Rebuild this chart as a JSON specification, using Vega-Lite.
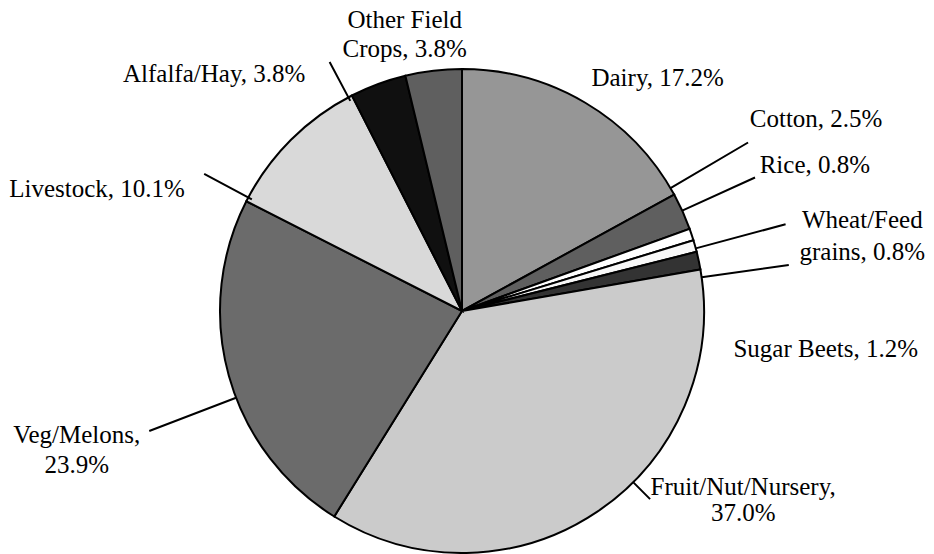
{
  "$schema": "https://vega.github.io/schema/vega-lite/v6.json",
  "width": 924,
  "height": 486,
  "autosize": {"type": "none"},
  "padding": {"left": 0, "right": 10, "top": 68, "bottom": 0},
  "background": "white",
  "config": {"view": {"stroke": null}, "text": {"font": "Liberation Serif", "fontSize": 25, "color": "black"}},
  "data": {
    "values": [
      {"rank": 1, "category": "Dairy", "value": 17.2, "label": "Dairy, 17.2%"},
      {"rank": 2, "category": "Cotton", "value": 2.5, "label": "Cotton, 2.5%"},
      {"rank": 3, "category": "Rice", "value": 0.8, "label": "Rice, 0.8%"},
      {"rank": 4, "category": "Wheat/Feed grains", "value": 0.8, "label": "Wheat/Feed\ngrains, 0.8%"},
      {"rank": 5, "category": "Sugar Beets", "value": 1.2, "label": "Sugar Beets, 1.2%"},
      {"rank": 6, "category": "Fruit/Nut/Nursery", "value": 37.0, "label": "Fruit/Nut/Nursery,\n37.0%"},
      {"rank": 7, "category": "Veg/Melons", "value": 23.9, "label": "Veg/Melons,\n23.9%"},
      {"rank": 8, "category": "Livestock", "value": 10.1, "label": "Livestock, 10.1%"},
      {"rank": 9, "category": "Alfalfa/Hay", "value": 3.8, "label": "Alfalfa/Hay, 3.8%"},
      {"rank": 10, "category": "Other Field Crops", "value": 3.8, "label": "Other Field\nCrops, 3.8%"}
    ]
  },
  "encoding": {
    "theta": {"field": "value", "type": "quantitative", "stack": true},
    "order": {"field": "rank", "type": "quantitative"}
  },
  "layer": [
    {
      "mark": {"type": "arc", "outerRadius": 242, "stroke": "black", "strokeWidth": 2},
      "encoding": {
        "color": {
          "field": "category", "type": "nominal", "legend": null,
          "scale": {
            "domain": ["Dairy", "Cotton", "Rice", "Wheat/Feed grains", "Sugar Beets", "Fruit/Nut/Nursery", "Veg/Melons", "Livestock", "Alfalfa/Hay", "Other Field Crops"],
            "range": ["#969696", "#5f5f5f", "#ffffff", "#f8f8f8", "#333333", "#cbcbcb", "#6b6b6b", "#d9d9d9", "#101010", "#5f5f5f"]
          }
        }
      }
    },
    {
      "mark": {"type": "arc", "innerRadius": 242, "outerRadius": 332, "padAngle": 3, "thetaOffset": -0.1082, "theta2Offset": -0.1082, "filled": false, "stroke": "black", "strokeWidth": 2},
      "encoding": {"strokeOpacity": {"condition": {"test": "datum.category === 'Cotton'", "value": 1}, "value": 0}}
    },
    {
      "mark": {"type": "arc", "innerRadius": 242, "outerRadius": 322, "padAngle": 3, "thetaOffset": -0.1059, "theta2Offset": -0.1059, "filled": false, "stroke": "black", "strokeWidth": 2},
      "encoding": {"strokeOpacity": {"condition": {"test": "datum.category === 'Rice'", "value": 1}, "value": 0}}
    },
    {
      "mark": {"type": "arc", "innerRadius": 242, "outerRadius": 335, "padAngle": 3, "thetaOffset": 0.0101, "theta2Offset": 0.0101, "filled": false, "stroke": "black", "strokeWidth": 2},
      "encoding": {"strokeOpacity": {"condition": {"test": "datum.category === 'Wheat/Feed grains'", "value": 1}, "value": 0}}
    },
    {
      "mark": {"type": "arc", "innerRadius": 242, "outerRadius": 330, "padAngle": 3, "thetaOffset": 0.0702, "theta2Offset": 0.0702, "filled": false, "stroke": "black", "strokeWidth": 2},
      "encoding": {"strokeOpacity": {"condition": {"test": "datum.category === 'Sugar Beets'", "value": 1}, "value": 0}}
    },
    {
      "mark": {"type": "arc", "innerRadius": 242, "outerRadius": 266, "padAngle": 3, "thetaOffset": -0.1919, "theta2Offset": -0.1919, "filled": false, "stroke": "black", "strokeWidth": 2},
      "encoding": {"strokeOpacity": {"condition": {"test": "datum.category === 'Fruit/Nut/Nursery'", "value": 1}, "value": 0}}
    },
    {
      "mark": {"type": "arc", "innerRadius": 242, "outerRadius": 335, "padAngle": 3, "thetaOffset": -0.0946, "theta2Offset": -0.0946, "filled": false, "stroke": "black", "strokeWidth": 2},
      "encoding": {"strokeOpacity": {"condition": {"test": "datum.category === 'Veg/Melons'", "value": 1}, "value": 0}}
    },
    {
      "mark": {"type": "arc", "innerRadius": 238, "outerRadius": 292, "padAngle": 3, "thetaOffset": -0.2960, "theta2Offset": -0.2960, "filled": false, "stroke": "black", "strokeWidth": 2},
      "encoding": {"strokeOpacity": {"condition": {"test": "datum.category === 'Livestock'", "value": 1}, "value": 0}}
    },
    {
      "mark": {"type": "arc", "innerRadius": 238, "outerRadius": 282, "padAngle": 3, "thetaOffset": -0.1344, "theta2Offset": -0.1344, "filled": false, "stroke": "black", "strokeWidth": 2},
      "encoding": {"strokeOpacity": {"condition": {"test": "datum.category === 'Alfalfa/Hay'", "value": 1}, "value": 0}}
    },
    {
      "mark": {"type": "text", "radius": 300, "align": "center", "baseline": "top", "dx": -22, "dy": -5, "lineBreak": "\n", "lineHeight": 29},
      "encoding": {"text": {"condition": {"test": "datum.category === 'Other Field Crops'", "field": "label", "type": "nominal"}, "value": ""}}
    },
    {
      "mark": {"type": "text", "radius": 262, "align": "left", "baseline": "alphabetic", "dx": -4, "dy": 0},
      "encoding": {"text": {"condition": {"test": "datum.category === 'Dairy'", "field": "label", "type": "nominal"}, "value": ""}}
    },
    {
      "mark": {"type": "text", "radius": 330, "align": "left", "baseline": "alphabetic", "dx": -13, "dy": -48},
      "encoding": {"text": {"condition": {"test": "datum.category === 'Cotton'", "field": "label", "type": "nominal"}, "value": ""}}
    },
    {
      "mark": {"type": "text", "radius": 318, "align": "left", "baseline": "alphabetic", "dx": -4, "dy": -37},
      "encoding": {"text": {"condition": {"test": "datum.category === 'Rice'", "field": "label", "type": "nominal"}, "value": ""}}
    },
    {
      "mark": {"type": "text", "radius": 400, "align": "center", "baseline": "top", "dx": 15, "dy": 4, "lineBreak": "\n", "lineHeight": 32},
      "encoding": {"text": {"condition": {"test": "datum.category === 'Wheat/Feed grains'", "field": "label", "type": "nominal"}, "value": ""}}
    },
    {
      "mark": {"type": "text", "radius": 300, "align": "left", "baseline": "alphabetic", "dx": -22, "dy": 108},
      "encoding": {"text": {"condition": {"test": "datum.category === 'Sugar Beets'", "field": "label", "type": "nominal"}, "value": ""}}
    },
    {
      "mark": {"type": "text", "radius": 290, "align": "center", "baseline": "top", "dx": 119, "dy": -76, "lineBreak": "\n", "lineHeight": 26},
      "encoding": {"text": {"condition": {"test": "datum.category === 'Fruit/Nut/Nursery'", "field": "label", "type": "nominal"}, "value": ""}}
    },
    {
      "mark": {"type": "text", "radius": 400, "align": "center", "baseline": "top", "dx": 0, "dy": 5, "lineBreak": "\n", "lineHeight": 30},
      "encoding": {"text": {"condition": {"test": "datum.category === 'Veg/Melons'", "field": "label", "type": "nominal"}, "value": ""}}
    },
    {
      "mark": {"type": "text", "radius": 280, "align": "right", "baseline": "alphabetic", "dx": -79, "dy": 84},
      "encoding": {"text": {"condition": {"test": "datum.category === 'Livestock'", "field": "label", "type": "nominal"}, "value": ""}}
    },
    {
      "mark": {"type": "text", "radius": 270, "align": "right", "baseline": "alphabetic", "dx": -63, "dy": 24},
      "encoding": {"text": {"condition": {"test": "datum.category === 'Alfalfa/Hay'", "field": "label", "type": "nominal"}, "value": ""}}
    }
  ]
}
